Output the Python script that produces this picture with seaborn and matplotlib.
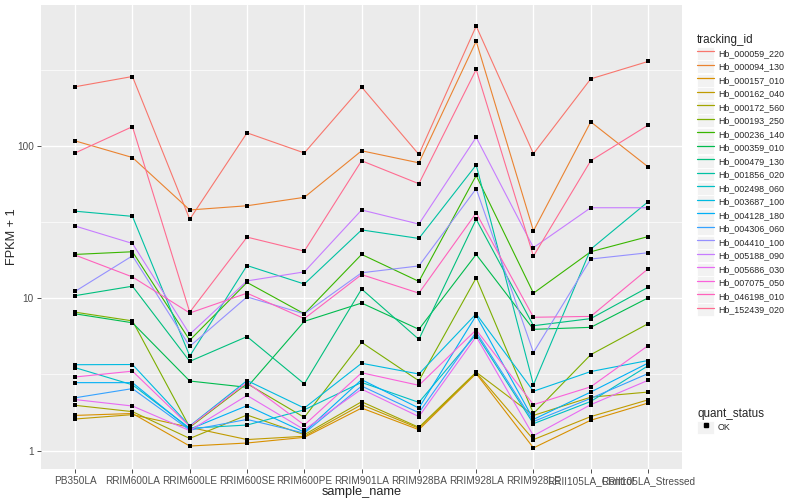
import matplotlib
matplotlib.use('Agg')
import matplotlib.pyplot as plt
import matplotlib.ticker as mticker
from matplotlib.lines import Line2D
from matplotlib.patches import Rectangle
import pandas as pd
import seaborn as sns

# Samples on the x axis
samples = ['PB350LA', 'RRIM600LA', 'RRIM600LE', 'RRIM600SE', 'RRIM600PE', 'RRIM901LA',
           'RRIM928BA', 'RRIM928LA', 'RRIM928LE', 'RRII105LA_Control', 'RRII105LA_Stressed']

# FPKM + 1 per gene
hb_000059_220 = [245, 286, 33, 122, 90, 244, 88, 613, 89, 276, 359]
hb_000094_130 = [108, 84, 38, 40.5, 46, 93, 77.5, 488, 27.7, 144, 73]
hb_000157_010 = [1.70, 1.75, 1.07, 1.12, 1.22, 1.90, 1.37, 3.20, 1.04, 1.58, 2.05]
hb_000162_040 = [1.61, 1.72, 1.42, 1.18, 1.24, 2.00, 1.40, 3.25, 1.18, 1.67, 2.15]
hb_000172_560 = [1.98, 1.80, 1.20, 1.71, 1.27, 2.09, 1.42, 3.27, 1.70, 2.24, 2.42]
hb_000193_250 = [8.1, 7.1, 1.42, 2.75, 1.65, 5.13, 2.87, 13.6, 1.75, 4.26, 6.8]
hb_000236_140 = [19.4, 20.2, 5.3, 12.7, 7.9, 19.4, 12.9, 64, 10.8, 20.2, 25.4]
hb_000359_010 = [7.9, 6.9, 2.86, 2.6, 7.05, 9.3, 6.25, 19.4, 6.25, 6.44, 10.05]
hb_000479_130 = [10.4, 12.0, 3.85, 5.6, 2.74, 11.5, 5.37, 33, 6.6, 7.35, 11.8]
hb_001856_020 = [37.3, 34.5, 4.17, 16.4, 12.4, 28.1, 24.7, 75, 2.7, 21, 43]
hb_002498_060 = [3.5, 2.7, 1.40, 1.47, 1.85, 2.80, 2.07, 5.8, 1.50, 2.10, 3.60]
hb_003687_100 = [3.66, 3.67, 1.45, 2.88, 1.90, 3.74, 3.18, 7.9, 2.45, 3.30, 3.90]
hb_004128_180 = [2.79, 2.79, 1.38, 1.97, 1.32, 2.92, 1.90, 7.7, 1.60, 2.42, 3.75]
hb_004306_060 = [2.22, 2.55, 1.36, 1.60, 1.30, 2.65, 1.77, 6.0, 1.55, 2.20, 3.20]
hb_004410_100 = [11.1, 19.0, 4.83, 10.2, 7.9, 14.7, 16.3, 52.4, 4.4, 18.1, 19.9]
hb_005188_090 = [29.8, 22.9, 5.8, 13.0, 14.9, 38, 30.7, 114, 21.5, 39.3, 39.3]
hb_005686_030 = [2.16, 1.96, 1.35, 2.30, 1.37, 2.53, 1.67, 5.6, 1.25, 2.00, 2.89]
hb_007075_050 = [3.04, 3.32, 1.44, 2.80, 1.47, 3.24, 2.68, 6.2, 2.00, 2.62, 4.88]
hb_046198_010 = [19.2, 13.8, 8.0, 10.8, 7.35, 14.3, 10.8, 36.3, 7.5, 7.6, 15.6]
hb_152439_020 = [90, 134, 8.1, 25.2, 20.4, 80, 56.5, 318, 18.9, 80, 137]

tracking_ids = ['Hb_000059_220', 'Hb_000094_130', 'Hb_000157_010', 'Hb_000162_040', 'Hb_000172_560',
                'Hb_000193_250', 'Hb_000236_140', 'Hb_000359_010', 'Hb_000479_130', 'Hb_001856_020',
                'Hb_002498_060', 'Hb_003687_100', 'Hb_004128_180', 'Hb_004306_060', 'Hb_004410_100',
                'Hb_005188_090', 'Hb_005686_030', 'Hb_007075_050', 'Hb_046198_010', 'Hb_152439_020']
series = [hb_000059_220, hb_000094_130, hb_000157_010, hb_000162_040, hb_000172_560,
          hb_000193_250, hb_000236_140, hb_000359_010, hb_000479_130, hb_001856_020,
          hb_002498_060, hb_003687_100, hb_004128_180, hb_004306_060, hb_004410_100,
          hb_005188_090, hb_005686_030, hb_007075_050, hb_046198_010, hb_152439_020]

# ggplot hue palette for 20 levels
colors = ['#F8766D', '#EA8331', '#D89000', '#C09B00', '#A3A500', '#7CAE00', '#39B600', '#00BB4E',
          '#00BF7D', '#00C1A3', '#00BFC4', '#00BAE0', '#00B0F6', '#35A2FF', '#9590FF', '#C77CFF',
          '#E76BF3', '#FA62DB', '#FF62BC', '#FF6C91']
palette = dict(zip(tracking_ids, colors))

rows = []
for tid, vals in zip(tracking_ids, series):
    for s, v in zip(samples, vals):
        rows.append({'tracking_id': tid, 'sample_name': s, 'fpkm': v, 'quant_status': 'OK'})
df = pd.DataFrame(rows)

sns.set_theme(style='darkgrid', rc={'axes.facecolor': '#EBEBEB', 'grid.color': 'white'})
plt.rcParams['font.family'] = ['Liberation Sans', 'DejaVu Sans']

fig, ax = plt.subplots(figsize=(8, 5), dpi=100)
fig.subplots_adjust(left=0.051, right=0.853, top=0.99, bottom=0.062)

sns.lineplot(data=df, x='sample_name', y='fpkm', hue='tracking_id', hue_order=tracking_ids,
             palette=palette, sort=False, linewidth=0.8, legend=False, ax=ax, zorder=2)
sns.scatterplot(data=df, x='sample_name', y='fpkm', color='black', marker='s', s=10,
                linewidth=0, legend=False, ax=ax, zorder=3)

ax.set_yscale('log')
ax.margins(y=0.05)
ax.set_xlim(-0.6, len(samples) - 0.4)
ax.yaxis.set_major_locator(mticker.FixedLocator([1, 10, 100]))
ax.yaxis.set_major_formatter(mticker.FixedFormatter(['1', '10', '100']))
ax.yaxis.set_minor_locator(mticker.FixedLocator([10 ** 0.5, 10 ** 1.5, 10 ** 2.5]))
ax.yaxis.set_minor_formatter(mticker.NullFormatter())
ax.grid(which='major', color='white', linewidth=1.0)
ax.grid(which='minor', color='white', linewidth=0.5)
ax.tick_params(which='major', length=3, width=0.6, color='#333333', labelsize=7.2,
               labelcolor='#4D4D4D', pad=2, left=True, bottom=True)
ax.tick_params(which='minor', length=0)
for sp in ax.spines.values():
    sp.set_visible(False)
ax.set_xlabel('sample_name', fontsize=9.2, labelpad=0)
ax.set_ylabel('FPKM + 1', fontsize=9.2, labelpad=-1)

# Legends in ggplot style
key_bg = '#F2F2F2'
fs = 6.4
hl = 17 / (fs * 100 / 72)
handles = [(Rectangle((0, 0), 1, 1, facecolor=key_bg, edgecolor='white', linewidth=0.6),
            Line2D([], [], color=palette[t], linewidth=0.9)) for t in tracking_ids]
leg1 = fig.legend(handles, tracking_ids, title='tracking_id', loc='upper left',
                  bbox_to_anchor=(0.866, 0.94), frameon=False, fontsize=fs,
                  title_fontsize=8.4, handlelength=hl, handleheight=hl,
                  labelspacing=0.03, handletextpad=0.4, borderpad=0, alignment='left')
ok_handle = [(Rectangle((0, 0), 1, 1, facecolor=key_bg, edgecolor='white', linewidth=0.6),
              Line2D([], [], color='black', marker='s', markersize=2.5, linestyle='none'))]
leg2 = fig.legend(ok_handle, ['OK'], title='quant_status', loc='upper left',
                  bbox_to_anchor=(0.866, 0.192), frameon=False, fontsize=fs,
                  title_fontsize=8.4, handlelength=hl, handleheight=hl,
                  labelspacing=0.03, handletextpad=0.4, borderpad=0, alignment='left')

fig.savefig('out.png', dpi=100)
